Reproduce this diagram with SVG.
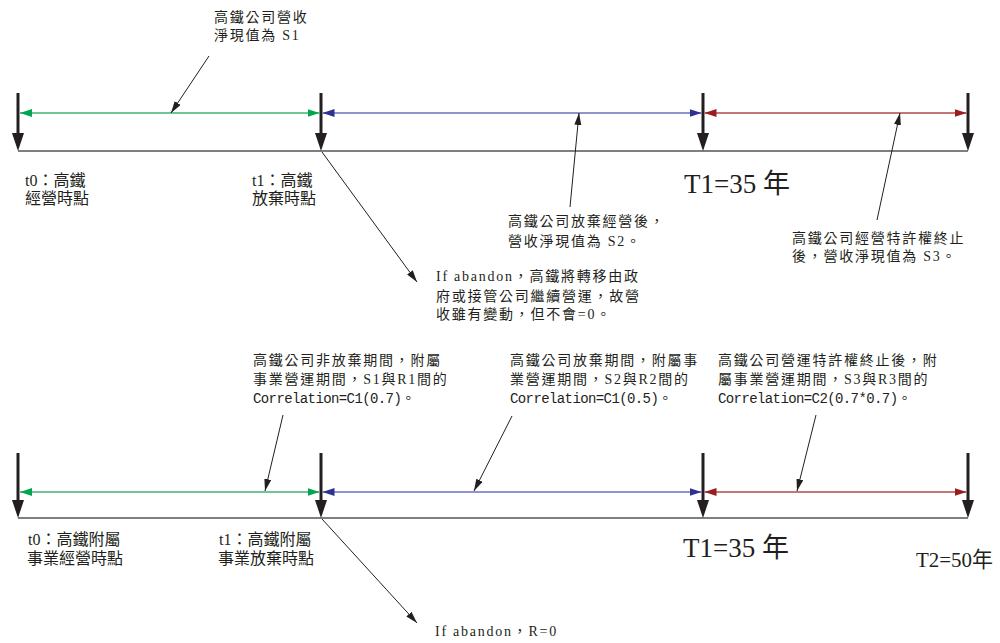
<svg xmlns="http://www.w3.org/2000/svg" width="1000" height="643" viewBox="0 0 1000 643">
<style>
.bg{fill:#ffffff}
.base{stroke:#555555;stroke-width:1.6;fill:none}
.tick{stroke:#231f20;stroke-width:3;fill:none}
.tickhead{fill:#231f20}
.ptr{stroke:#231f20;stroke-width:1;fill:none;marker-end:url(#ptrhead)}
.g{stroke:#3cb371;stroke-width:1.5;marker-start:url(#gh);marker-end:url(#gh)}
.b{stroke:#6d71b8;stroke-width:1.5;marker-start:url(#bh);marker-end:url(#bh)}
.r{stroke:#b04848;stroke-width:1.5;marker-start:url(#rh);marker-end:url(#rh)}
text{fill:#231f20}
.note{font-family:"Liberation Serif","Noto Sans CJK TC",serif;font-size:14px;letter-spacing:1.75px}
.mono{font-family:"Liberation Mono","Noto Sans CJK TC",monospace;letter-spacing:-0.6px}
.lab{font-family:"Liberation Serif","Noto Sans CJK TC",serif;font-size:16px}
.big{font-family:"Liberation Serif","Noto Sans CJK TC",serif;font-size:27px}
.big2{font-family:"Liberation Serif","Noto Sans CJK TC",serif;font-size:22px}
</style>
<defs>
<marker id="ptrhead" markerUnits="userSpaceOnUse" markerWidth="13" markerHeight="8" refX="12" refY="3.5" orient="auto"><path d="M0,0 L12,3.5 L0,7 z" fill="#231f20"/></marker>
<marker id="gh" markerUnits="userSpaceOnUse" markerWidth="13" markerHeight="9" refX="12" refY="4" orient="auto-start-reverse"><path d="M0,0 L12,4 L0,8 z" fill="#00a651"/></marker>
<marker id="bh" markerUnits="userSpaceOnUse" markerWidth="13" markerHeight="9" refX="12" refY="4" orient="auto-start-reverse"><path d="M0,0 L12,4 L0,8 z" fill="#2e3192"/></marker>
<marker id="rh" markerUnits="userSpaceOnUse" markerWidth="13" markerHeight="9" refX="12" refY="4" orient="auto-start-reverse"><path d="M0,0 L12,4 L0,8 z" fill="#9b1c1c"/></marker>
</defs>
<rect class="bg" x="0" y="0" width="1000" height="643"/>

<g id="top-timeline">
  <line class="base" x1="18" y1="151" x2="968" y2="151"/>
  <line class="tick" x1="18" y1="93" x2="18" y2="136"/><polygon class="tickhead" points="12,133 24,133 18,151"/>
  <line class="tick" x1="321" y1="93" x2="321" y2="136"/><polygon class="tickhead" points="315,133 327,133 321,151"/>
  <line class="tick" x1="703" y1="93" x2="703" y2="136"/><polygon class="tickhead" points="697,133 709,133 703,151"/>
  <line class="tick" x1="968" y1="93" x2="968" y2="136"/><polygon class="tickhead" points="962,133 974,133 968,151"/>
</g>
<g id="bottom-timeline">
  <line class="base" x1="18" y1="518" x2="968" y2="518"/>
  <line class="tick" x1="18" y1="453" x2="18" y2="503"/><polygon class="tickhead" points="12,500 24,500 18,518"/>
  <line class="tick" x1="321" y1="453" x2="321" y2="503"/><polygon class="tickhead" points="315,500 327,500 321,518"/>
  <line class="tick" x1="703" y1="453" x2="703" y2="503"/><polygon class="tickhead" points="697,500 709,500 703,518"/>
  <line class="tick" x1="968" y1="453" x2="968" y2="503"/><polygon class="tickhead" points="962,500 974,500 968,518"/>
</g>

<g id="connectors">
  <line class="g" x1="20" y1="113" x2="319.5" y2="113"/>
  <line class="b" x1="322.5" y1="113" x2="701.5" y2="113"/>
  <line class="r" x1="704.5" y1="113" x2="966.5" y2="113"/>
  <line class="g" x1="20" y1="492" x2="319.5" y2="492"/>
  <line class="b" x1="322.5" y1="492" x2="701.5" y2="492"/>
  <line class="r" x1="704.5" y1="492" x2="966.5" y2="492"/>
  <line class="ptr" x1="209" y1="56" x2="171" y2="113"/>
  <line class="ptr" x1="570" y1="207" x2="579" y2="113"/>
  <line class="ptr" x1="877" y1="220" x2="900" y2="113"/>
  <line class="ptr" x1="322" y1="152" x2="417" y2="282"/>
  <line class="ptr" x1="283" y1="415" x2="265" y2="491"/>
  <line class="ptr" x1="512" y1="416" x2="474" y2="491"/>
  <line class="ptr" x1="816" y1="415" x2="797" y2="491"/>
  <line class="ptr" x1="322" y1="519" x2="417" y2="623"/>
</g>

<g id="note-s1">
  <text class="note" x="214" y="22">高鐵公司營收</text>
  <text class="note" x="214" y="40">淨現值為 S1</text>
</g>
<g id="label-t0-top">
  <text class="lab" x="25" y="186">t0：高鐵</text>
  <text class="lab" x="25" y="204">經營時點</text>
</g>
<g id="label-t1-top">
  <text class="lab" x="252" y="186">t1：高鐵</text>
  <text class="lab" x="252" y="204">放棄時點</text>
</g>
<g id="label-T1-top">
  <text class="big" x="684" y="193">T1=35 年</text>
</g>
<g id="note-s2">
  <text class="note" x="508" y="226">高鐵公司放棄經營後，</text>
  <text class="note" x="508" y="246">營收淨現值為 S2。</text>
</g>
<g id="note-s3">
  <text class="note" x="792" y="243">高鐵公司經營特許權終止</text>
  <text class="note" x="792" y="261">後，營收淨現值為 S3。</text>
</g>
<g id="note-abandon-top">
  <text class="note" x="436" y="281">If abandon，高鐵將轉移由政</text>
  <text class="note" x="436" y="301">府或接管公司繼續營運，故營</text>
  <text class="note" x="436" y="319">收雖有變動，但不會=0。</text>
</g>

<g id="note-c1">
  <text class="note" x="253" y="365">高鐵公司非放棄期間，附屬</text>
  <text class="note" x="253" y="384">事業營運期間，S1與R1間的</text>
  <text class="note" x="253" y="403"><tspan class="mono">Correlation=C1(0.7)</tspan>。</text>
</g>
<g id="note-c2">
  <text class="note" x="510" y="365">高鐵公司放棄期間，附屬事</text>
  <text class="note" x="510" y="384">業營運期間，S2與R2間的</text>
  <text class="note" x="510" y="403"><tspan class="mono">Correlation=C1(0.5)</tspan>。</text>
</g>
<g id="note-c3">
  <text class="note" x="718" y="365">高鐵公司營運特許權終止後，附</text>
  <text class="note" x="718" y="384">屬事業營運期間，S3與R3間的</text>
  <text class="note" x="718" y="403"><tspan class="mono">Correlation=C2(0.7*0.7)</tspan>。</text>
</g>
<g id="label-t0-bottom">
  <text class="lab" x="28" y="545">t0：高鐵附屬</text>
  <text class="lab" x="27" y="564">事業經營時點</text>
</g>
<g id="label-t1-bottom">
  <text class="lab" x="219" y="545">t1：高鐵附屬</text>
  <text class="lab" x="218" y="564">事業放棄時點</text>
</g>
<g id="label-T1-bottom">
  <text class="big" x="683" y="557">T1=35 年</text>
</g>
<g id="label-T2-bottom">
  <text class="big2" x="916" y="567" textLength="77" lengthAdjust="spacingAndGlyphs">T2=50年</text>
</g>
<g id="note-abandon-bottom">
  <text class="note" x="435" y="636">If abandon，R=0</text>
</g>
</svg>
